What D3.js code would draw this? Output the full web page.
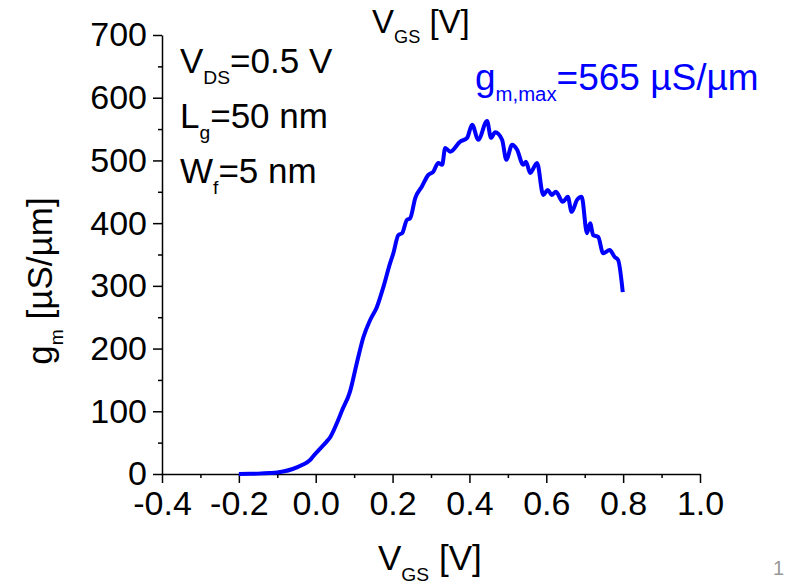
<!DOCTYPE html>
<html>
<head>
<meta charset="utf-8">
<script src="https://cdn.jsdelivr.net/npm/d3@7"></script>
<style>
  body { margin: 0; background: #fff; }
  text { font-family: "Liberation Sans", Arial, sans-serif; }
</style>
</head>
<body>
<div id="chart"></div>
<script>
// gm vs VGS curve
const vgs = [-0.2, -0.17, -0.15, -0.12, -0.1, -0.085, -0.06, -0.033, -0.015, -0.007, 0.011, 0.029, 0.037, 0.055, 0.069, 0.089,
  0.107, 0.124, 0.142, 0.159, 0.176, 0.193, 0.202, 0.215, 0.225, 0.237, 0.246, 0.259, 0.276, 0.293, 0.306,
  0.319, 0.329, 0.337, 0.350, 0.376, 0.394, 0.407, 0.423, 0.446, 0.456, 0.467, 0.485, 0.496, 0.511, 0.524,
  0.540, 0.547, 0.558, 0.576, 0.592, 0.604, 0.614, 0.625, 0.643, 0.656, 0.666, 0.680, 0.692, 0.706, 0.714,
  0.722, 0.735, 0.748, 0.765, 0.778, 0.787, 0.799];
const gm = [0, 0.3, 0.6, 1.5, 2.5, 4, 8, 15, 22, 28, 40, 52, 58, 81, 102, 131,
  177, 218, 246, 266, 298, 335, 352, 381, 384, 405, 408, 440, 458, 477, 482,
  496, 493, 520, 514, 530, 536, 557, 533, 563, 536, 545, 533, 501, 525, 517,
  493, 498, 480, 496, 445, 453, 445, 450, 434, 442, 418, 437, 442, 384, 400,
  381, 378, 352, 357, 346, 341, 290];

const xTicks = [-0.4, -0.2, 0.0, 0.2, 0.4, 0.6, 0.8, 1.0];
const yTicks = [0, 100, 200, 300, 400, 500, 600, 700];

const W = 786, H = 584;
const margin = {top: 35, right: 86, bottom: 110, left: 162};

const svg = d3.select("#chart")
    .append("svg")
    .attr("width", W)
    .attr("height", H);

const x = d3.scaleLinear().domain([-0.4, 1.0]).range([margin.left, W - margin.right]);
const y = d3.scaleLinear().domain([0, 700]).range([H - margin.bottom, margin.top]);

// plain hyphen for negatives, like the original
const fmt = d => d3.format(".1f")(d).replace("\u2212", "-");

// X axis
const xAxis = svg.append("g")
    .attr("transform", `translate(0,${y(0)})`)
    .call(d3.axisBottom(x).tickValues(xTicks).tickFormat(fmt).tickSize(9).tickPadding(8).tickSizeOuter(0));
// minor ticks x
svg.append("g")
    .attr("transform", `translate(0,${y(0)})`)
    .call(d3.axisBottom(x).tickValues(d3.range(-0.3, 1.0, 0.2)).tickSize(4).tickFormat("").tickSizeOuter(0))
    .select(".domain").remove();

// Y axis
const yAxis = svg.append("g")
    .attr("transform", `translate(${x(-0.4)},0)`)
    .call(d3.axisLeft(y).tickValues(yTicks).tickSize(9).tickPadding(6).tickSizeOuter(0));
svg.append("g")
    .attr("transform", `translate(${x(-0.4)},0)`)
    .call(d3.axisLeft(y).tickValues(d3.range(50, 700, 100)).tickSize(4).tickFormat("").tickSizeOuter(0))
    .select(".domain").remove();

svg.selectAll(".domain, .tick line")
    .attr("stroke", "#000")
    .attr("stroke-width", 1.5);
svg.selectAll(".tick text")
    .attr("fill", "#000")
    .style("font-size", "34px")
    .style("font-family", "Liberation Sans, Arial, sans-serif");
xAxis.selectAll(".tick text").attr("dy", "0.72em");

// Curve
const line = d3.line()
    .x((d, i) => x(vgs[i]))
    .y(d => y(d))
    .curve(d3.curveMonotoneX);

svg.append("path")
    .datum(gm)
    .attr("fill", "none")
    .attr("stroke", "#0000ff")
    .attr("stroke-width", 4)
    .attr("stroke-linejoin", "round")
    .attr("d", line);

// helper for text with subscripts
function subText(xp, yp, parts, size, color, anchor) {
  const t = svg.append("text")
      .attr("x", xp)
      .attr("y", yp)
      .attr("fill", color)
      .attr("text-anchor", anchor || "start")
      .style("font-size", size + "px");
  parts.forEach(p => {
    if (p.sub) {
      t.append("tspan").attr("dy", size * 0.3).style("font-size", (size * 0.55) + "px").text(p.sub);
    } else {
      t.append("tspan").attr("dy", p.after ? -size * 0.3 : 0).text(p.t);
    }
  });
  return t;
}

// Axis titles
subText(372, 33, [{t: "V"}, {sub: "GS"}, {t: " [V]", after: true}], 33, "#000");
subText(378, 570, [{t: "V"}, {sub: "GS"}, {t: " [V]", after: true}], 35, "#000");

const yt = subText(0, 0, [{t: "g"}, {sub: "m"}, {t: " [µS/µm]", after: true}], 35, "#000", "middle");
yt.attr("transform", "translate(52,281) rotate(-90)");

// Annotations
subText(180, 73, [{t: "V"}, {sub: "DS"}, {t: "=0.5 V", after: true}], 35, "#000");
subText(180, 128, [{t: "L"}, {sub: "g"}, {t: "=50 nm", after: true}], 35, "#000");
subText(180, 183, [{t: "W"}, {sub: "f"}, {t: "=5 nm", after: true}], 35, "#000");

subText(475, 90, [{t: "g"}, {sub: "m,max"}, {t: "=565 µS/µm", after: true}], 37, "#0000ff");

// page number
svg.append("text")
    .attr("x", 784)
    .attr("y", 575)
    .attr("text-anchor", "end")
    .attr("fill", "#999")
    .style("font-size", "20px")
    .text("1");
</script>
</body>
</html>
